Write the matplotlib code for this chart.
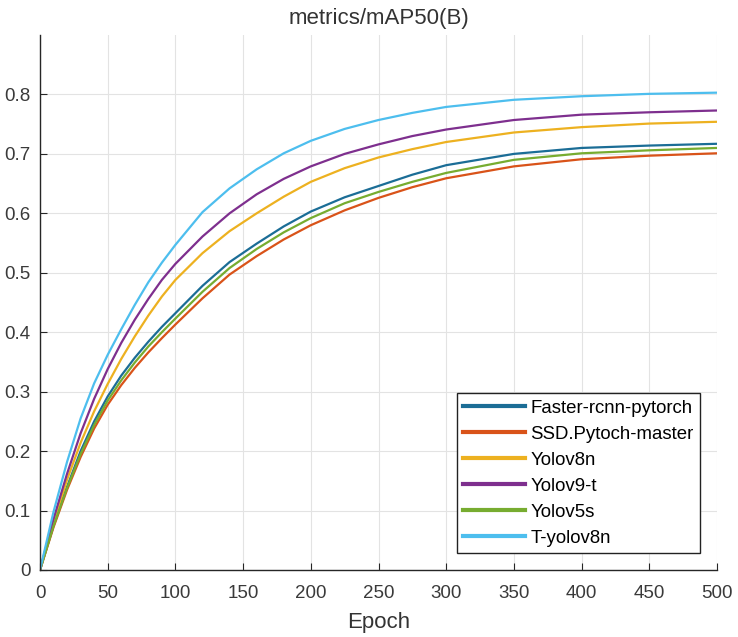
import matplotlib
matplotlib.use("Agg")
import matplotlib.pyplot as plt

plt.rcParams['font.family'] = ['Liberation Sans', 'DejaVu Sans']

epochs = [0, 10, 20, 30, 40, 50, 60, 70, 80, 90, 100, 120, 140, 160, 180,
          200, 225, 250, 275, 300, 350, 400, 450, 500]

faster_rcnn = [0, 0.075, 0.140, 0.200, 0.250, 0.292, 0.327, 0.357, 0.384, 0.409, 0.432,
               0.478, 0.518, 0.549, 0.578, 0.603, 0.627, 0.646, 0.665, 0.681,
               0.700, 0.710, 0.714, 0.717]
ssd = [0, 0.072, 0.135, 0.190, 0.238, 0.278, 0.311, 0.340, 0.366, 0.390, 0.413,
       0.457, 0.497, 0.528, 0.556, 0.580, 0.605, 0.626, 0.644, 0.659,
       0.679, 0.691, 0.697, 0.701]
yolov8n = [0, 0.080, 0.152, 0.214, 0.267, 0.313, 0.355, 0.393, 0.428, 0.460, 0.488,
           0.533, 0.570, 0.600, 0.628, 0.653, 0.676, 0.694, 0.708, 0.720,
           0.736, 0.745, 0.751, 0.754]
yolov9t = [0, 0.086, 0.162, 0.230, 0.288, 0.338, 0.382, 0.421, 0.456, 0.488, 0.515,
           0.561, 0.600, 0.632, 0.658, 0.679, 0.700, 0.716, 0.730, 0.741,
           0.757, 0.766, 0.770, 0.773]
yolov5s = [0, 0.074, 0.138, 0.195, 0.244, 0.285, 0.319, 0.349, 0.376, 0.400, 0.423,
           0.468, 0.508, 0.540, 0.568, 0.592, 0.617, 0.636, 0.653, 0.668,
           0.690, 0.701, 0.706, 0.710]
t_yolov8n = [0, 0.098, 0.182, 0.255, 0.314, 0.362, 0.405, 0.446, 0.484, 0.517, 0.547,
             0.602, 0.642, 0.674, 0.701, 0.722, 0.742, 0.757, 0.769, 0.779,
             0.791, 0.797, 0.801, 0.803]

series = [
    ("Faster-rcnn-pytorch", faster_rcnn, "#1b6d96"),
    ("SSD.Pytoch-master", ssd, "#d95319"),
    ("Yolov8n", yolov8n, "#edb120"),
    ("Yolov9-t", yolov9t, "#7e2f8e"),
    ("Yolov5s", yolov5s, "#77ac30"),
    ("T-yolov8n", t_yolov8n, "#4dbeee"),
]

fig = plt.figure(figsize=(7.38, 6.37), dpi=100)
ax = fig.add_axes([40 / 738, 67 / 637, 677 / 738, 535 / 637])

for name, vals, col in series:
    ax.plot(epochs, vals, color=col, lw=1.6, label=name)

ax.set_xlim(0, 500)
ax.set_ylim(0, 0.9)
ax.set_xticks(range(0, 501, 50))
ax.set_yticks([i / 10 for i in range(9)])
ax.set_yticklabels(["0"] + [f"{i / 10:.1f}" for i in range(1, 9)])
ax.grid(True, color="#e3e3e3", lw=0.8)
ax.set_axisbelow(True)
for s in ["top", "right"]:
    ax.spines[s].set_visible(False)
for s in ["left", "bottom"]:
    ax.spines[s].set_color("#262626")
    ax.spines[s].set_linewidth(1.0)
ax.tick_params(direction="in", length=5, labelsize=13.5, colors="#262626",
               labelcolor="#3a3a3a")
ax.tick_params(axis="x", pad=11)
ax.tick_params(axis="y", pad=7)

ax.set_title("metrics/mAP50(B)", fontsize=16, color="#333333", pad=8)
ax.set_xlabel("Epoch", fontsize=16, color="#333333", labelpad=7)

leg = ax.legend(loc="lower right", fontsize=13.4, frameon=True, fancybox=False,
                framealpha=1, edgecolor="#222222", borderaxespad=0.9,
                borderpad=0.35, labelspacing=0.48, handlelength=3.3,
                handletextpad=0.3)
leg.get_frame().set_linewidth(1.0)
for h in leg.get_lines():
    h.set_linewidth(3)

fig.savefig("out.png", dpi=100)
